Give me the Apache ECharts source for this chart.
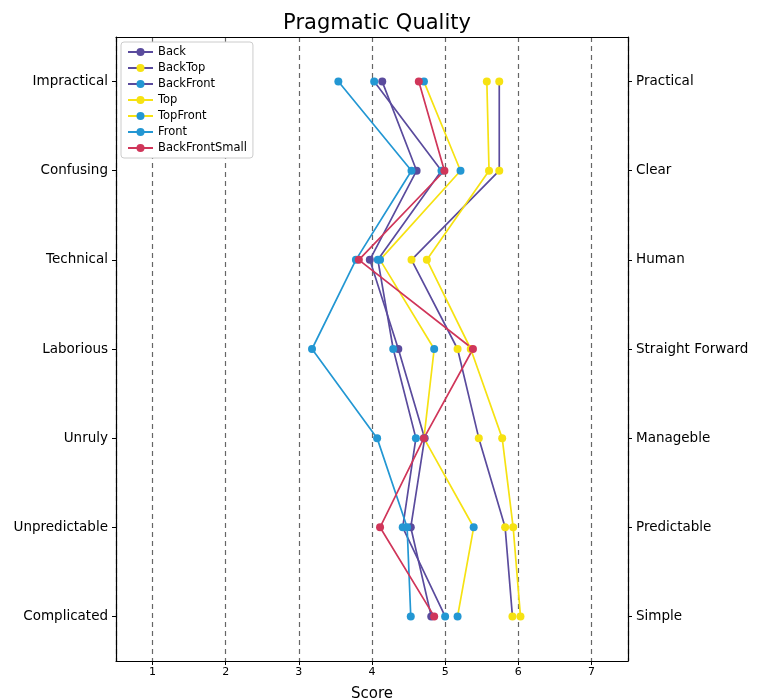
<!DOCTYPE html>
<html>
<head>
<meta charset="utf-8">
<script src="https://cdn.jsdelivr.net/npm/echarts@6/dist/echarts.min.js"></script>
<style>html,body{margin:0;padding:0;background:#fff}#c{width:758px;height:700px}</style>
</head>
<body>
<div id="c"></div>
<script>
// categories bottom -> top
const leftLabels = ["Complicated", "Unpredictable", "Unruly", "Laborious", "Technical", "Confusing", "Impractical"];
const rightLabels = ["Simple", "Predictable", "Manageble", "Straight Forward", "Human", "Clear", "Practical"];
const xTicks = [1, 2, 3, 4, 5, 6, 7];

// values bottom -> top (Complicated ... Impractical)
const back           = [4.81, 4.53, 4.72, 4.36, 3.97, 4.61, 4.14];
const backTop        = [5.92, 5.82, 5.46, 5.17, 4.54, 5.74, 5.74];
const backFront      = [5.00, 4.42, 4.60, 4.29, 4.08, 4.95, 4.03];
const top_           = [6.03, 5.93, 5.78, 5.35, 4.75, 5.60, 5.57];
const topFront       = [5.17, 5.39, 4.71, 4.85, 4.11, 5.21, 4.71];
const front          = [4.53, 4.48, 4.07, 3.18, 3.78, 4.54, 3.54];
const backFrontSmall = [4.85, 4.11, 4.71, 5.38, 3.82, 4.99, 4.64];

const PURPLE = '#5a4b9d', YELLOW = '#f6e212', BLUE = '#2397d3', RED = '#d0365a';
const FONT = 'DejaVu Sans';

function mk(name, vals, lineColor, markColor) {
  return {
    name: name, type: 'line', data: vals.map((v, i) => [v, i]),
    symbol: 'circle', symbolSize: 8,
    lineStyle: { color: lineColor, width: 1.7 },
    itemStyle: { color: markColor },
    emphasis: { disabled: true }, animation: false
  };
}

const chart = echarts.init(document.getElementById('c'), null, { renderer: 'canvas' });
chart.setOption({
  animation: false,
  title: { text: 'Pragmatic Quality', left: 372, top: 8, textAlign: 'center',
    textStyle: { fontFamily: FONT, fontSize: 21, fontWeight: 'normal', color: '#000' } },
  grid: { left: 116, right: 130, top: 37, bottom: 39, containLabel: false, outerBoundsMode: 'none' },
  legend: {
    orient: 'vertical', left: 121, top: 42, itemGap: 4, itemWidth: 25, itemHeight: 10,
    padding: [4, 6, 4, 6], backgroundColor: '#fff', borderColor: '#cccccc', borderWidth: 1, borderRadius: 3,
    textStyle: { fontFamily: FONT, fontSize: 11.5, color: '#000' },
    data: ['Back', 'BackTop', 'BackFront', 'Top', 'TopFront', 'Front', 'BackFrontSmall']
  },
  xAxis: [{
    type: 'value', min: 0.5, max: 7.5, minInterval: 1, maxInterval: 1,
    name: 'Score', nameLocation: 'middle', nameGap: 26,
    nameTextStyle: { fontFamily: FONT, fontSize: 15, color: '#000' },
    axisLine: { show: true, lineStyle: { color: '#000', width: 1.2 } },
    axisTick: { show: true, length: 4, lineStyle: { color: '#000' } },
    axisLabel: { fontFamily: FONT, fontSize: 11, color: '#000', margin: 6, showMinLabel: false, showMaxLabel: false,
      formatter: v => xTicks.includes(v) ? String(v) : '' },
    splitLine: { show: true, lineStyle: { color: '#666', type: [5, 4], width: 1.2 } }
  }, {
    type: 'value', min: 0.5, max: 7.5, position: 'top',
    axisLine: { show: true, onZero: false, lineStyle: { color: '#000', width: 1.2 } },
    axisTick: { show: false }, axisLabel: { show: false }, splitLine: { show: false }
  }],
  yAxis: [
    { type: 'category', data: leftLabels, position: 'left',
      axisLine: { show: true, lineStyle: { color: '#000', width: 1.2 } },
      axisTick: { show: true, alignWithLabel: true, length: 4, lineStyle: { color: '#000' } },
      axisLabel: { fontFamily: FONT, fontSize: 13.5, color: '#000', margin: 8 },
      splitLine: { show: false } },
    { type: 'category', data: rightLabels, position: 'right',
      axisLine: { show: true, lineStyle: { color: '#000', width: 1.2 } },
      axisTick: { show: true, alignWithLabel: true, length: 4, lineStyle: { color: '#000' } },
      axisLabel: { fontFamily: FONT, fontSize: 13.5, color: '#000', margin: 8 },
      splitLine: { show: false } }
  ],
  series: [
    mk('Back', back, PURPLE, PURPLE),
    mk('BackTop', backTop, PURPLE, YELLOW),
    mk('BackFront', backFront, PURPLE, BLUE),
    mk('Top', top_, YELLOW, YELLOW),
    mk('TopFront', topFront, YELLOW, BLUE),
    mk('Front', front, BLUE, BLUE),
    mk('BackFrontSmall', backFrontSmall, RED, RED)
  ]
});
</script>
</body>
</html>
